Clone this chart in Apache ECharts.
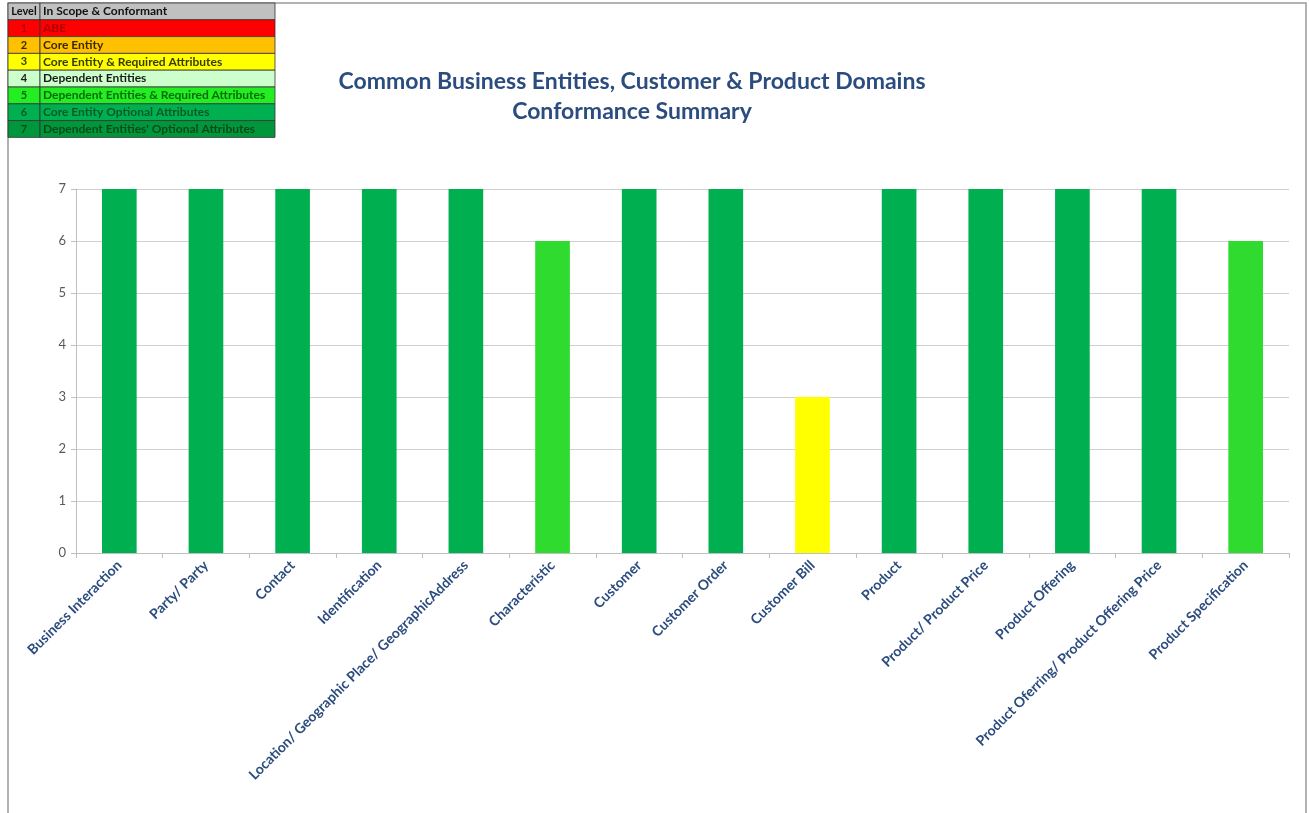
<!DOCTYPE html>
<html>
<head>
<meta charset="utf-8">
<script src="https://cdn.jsdelivr.net/npm/echarts@6/dist/echarts.min.js"></script>
<style>
html,body{margin:0;padding:0;background:#fff;}
#chart{width:1309px;height:813px;}
</style>
</head>
<body>
<div id="chart"></div>
<script>
// ---- data ----
const categories = [
  'Business Interaction', 'Party/ Party', 'Contact', 'Identification',
  'Location/ Geographic Place/ GeographicAddress', 'Characteristic', 'Customer',
  'Customer Order', 'Customer Bill', 'Product', 'Product/ Product Price',
  'Product Offering', 'Product Oferring/ Product Offering Price', 'Product Specification'
];
const conformanceLevel = [7, 7, 7, 7, 7, 6, 7, 7, 3, 7, 7, 7, 7, 6];
const yTicks = [0, 1, 2, 3, 4, 5, 6, 7];
const titleLines = ['Common Business Entities, Customer & Product Domains', 'Conformance Summary'];
const legendHeader = ['Level', 'In Scope & Conformant'];
const legendLevels = [1, 2, 3, 4, 5, 6, 7];
const legendLabels = [
  'ABE', 'Core Entity', 'Core Entity & Required Attributes', 'Dependent Entities',
  'Dependent Entities & Required Attributes', 'Core Entity Optional Attributes',
  "Dependent Entities' Optional Attributes"
];

// ---- styles ----
const legendFill = {1:'#FF0000',2:'#FFC000',3:'#FFFF00',4:'#CCFFCC',5:'#22EE22',6:'#00B050',7:'#00973C'};
const legendTextColor = {1:'#B00000',2:'#3a2a00',3:'#3a3a00',4:'#1a1a1a',5:'#0a6a0a',6:'#0a5a25',7:'#0a4a1a'};
const barColor = {3:'#FFFF00',6:'#2EDB2E',7:'#00B050'};

const chart = echarts.init(document.getElementById('chart'));

// legend table graphic
const gx = 8, gy = 3, rowH = 16.8, col1W = 32, col2W = 267;
const graphics = [];
graphics.push({type:'rect', shape:{x:8, y:3, width:1298, height:830}, style:{fill:'none', stroke:'#9a9a9a', lineWidth:1.5}, z:0});
function row(y, fill, tcol, c1, c2) {
  graphics.push({type:'rect', shape:{x:gx, y:y, width:col1W, height:rowH}, style:{fill:fill, stroke:'#333', lineWidth:0.8}, z:10});
  graphics.push({type:'rect', shape:{x:gx+col1W, y:y, width:col2W - col1W, height:rowH}, style:{fill:fill, stroke:'#333', lineWidth:0.8}, z:10});
  graphics.push({type:'text', x:gx + col1W/2, y:y + rowH/2, style:{text:String(c1), fill:tcol, font:'bold 11px Lato', align:'center', verticalAlign:'middle'}, z:11});
  graphics.push({type:'text', x:gx + col1W + 3, y:y + rowH/2, style:{text:c2, fill:tcol, font:'bold 12px Lato', align:'left', verticalAlign:'middle'}, z:11});
}
row(gy, '#C0C0C0', '#111', legendHeader[0], legendHeader[1]);
legendLevels.forEach((lv, i) => {
  row(gy + rowH*(i+1), legendFill[lv], legendTextColor[lv], lv, legendLabels[i]);
});

chart.setOption({
  backgroundColor: '#fff',
  animation: false,
  title: {
    text: titleLines.join('\n'),
    left: 627, top: 62, textAlign: 'center',
    textStyle: {fontFamily: 'Lato', fontWeight: 'bold', fontSize: 23, color: '#2B4C7E', lineHeight: 30}
  },
  grid: {left: 76, right: 20, top: 189, bottom: 260, containLabel: false},
  xAxis: {
    type: 'category',
    data: categories,
    axisLine: {lineStyle: {color: '#BFBFBF', width: 1}},
    axisTick: {show: true, length: 5, lineStyle: {color: '#BFBFBF'}},
    axisLabel: {rotate: 45, interval: 0, margin: 10, fontFamily: 'Lato', fontWeight: 'bold', fontSize: 14, color: '#2B4C7E'}
  },
  yAxis: {
    type: 'value', min: 0, max: 7, interval: 1,
    axisLine: {show: true, lineStyle: {color: '#BFBFBF'}},
    axisTick: {show: true, length: 5, lineStyle: {color: '#BFBFBF'}},
    axisLabel: {fontFamily: 'Lato', fontSize: 13, color: '#595959', margin: 10,
      formatter: v => yTicks.includes(v) ? String(v) : ''},
    splitLine: {lineStyle: {color: '#D0D0D0', width: 1}}
  },
  series: [{
    type: 'bar',
    data: conformanceLevel.map(v => ({value: v, itemStyle: {color: barColor[v]}})),
    barWidth: '40%'
  }],
  graphic: graphics
});
</script>
</body>
</html>
